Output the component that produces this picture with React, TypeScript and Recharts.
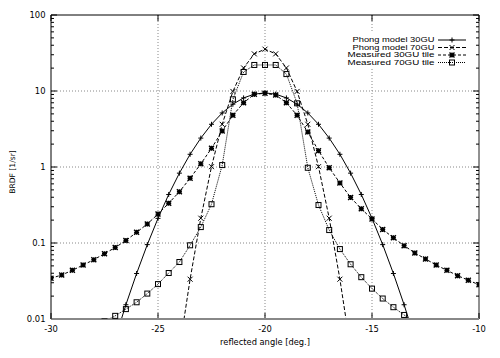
import React from 'react';
import { LineChart, Line, XAxis, YAxis, ReferenceLine, Legend } from 'recharts';

// ---------- data ----------
const xTicks = [-30, -25, -20, -15, -10];
const xGrid = [-25, -20, -15];
const yTicks = [0.01, 0.1, 1, 10, 100];
const yTickLabels = ['0.01', '0.1', '1', '10', '100'];
const yGrid = [0.1, 1, 10];
const yMinorFactors = [2, 3, 4, 5, 6, 7, 8, 9];
const yDecades = [0.01, 0.1, 1, 10];

const seriesNames = ['Phong model 30GU', 'Phong model 70GU', 'Measured 30GU tile', 'Measured 70GU tile'];

const phong30X = [-27, -26.5, -26, -25.5, -25, -24.5, -24, -23.5, -23, -22.5, -22, -21.5, -21, -20.5, -20,
  -19.5, -19, -18.5, -18, -17.5, -17, -16.5, -16, -15.5, -15, -14.5, -14, -13.5, -13];
const phong30Y = [0.0055, 0.0154, 0.0397, 0.0952, 0.211, 0.435, 0.83, 1.47, 2.4, 3.65, 5.14, 6.71, 8.11, 9.09, 9.44,
  9.09, 8.11, 6.71, 5.14, 3.65, 2.4, 1.47, 0.83, 0.435, 0.211, 0.0952, 0.0397, 0.0154, 0.0055];

const phong70X = [-24, -23.5, -23, -22.5, -22, -21.5, -21, -20.5, -20, -19.5, -19, -18.5, -18, -17.5, -17, -16.5, -16];
const phong70Y = [0.004, 0.0334, 0.212, 1.01, 3.65, 9.87, 20.1, 30.8, 35.5, 30.8, 20.1, 9.87, 3.65, 1.01, 0.212, 0.0334, 0.004];

const meas30X = [-30, -29.5, -29, -28.5, -28, -27.5, -27, -26.5, -26, -25.5, -25, -24.5, -24, -23.5, -23, -22.5, -22,
  -21.5, -21, -20.5, -20, -19.5, -19, -18.5, -18, -17.5, -17, -16.5, -16, -15.5, -15, -14.5, -14, -13.5, -13,
  -12.5, -12, -11.5, -11, -10.5, -10];
const meas30Y = [0.0343, 0.038, 0.0437, 0.0513, 0.0603, 0.0724, 0.0871, 0.108, 0.138, 0.178, 0.24, 0.333, 0.473,
  0.71, 1.1, 1.76, 2.98, 4.79, 7.01, 9.06, 9.33, 8.85, 7.01, 4.79, 2.88, 1.64, 0.977, 0.617, 0.398, 0.282, 0.207,
  0.151, 0.117, 0.0923, 0.0741, 0.0617, 0.0513, 0.0437, 0.0372, 0.0324, 0.0282];

const meas70X = [-27.5, -27, -26.5, -26, -25.5, -25, -24.5, -24, -23.5, -23, -22.5, -22, -21.5, -21, -20.5, -20,
  -19.5, -19, -18.5, -18, -17.5, -17, -16.5, -16, -15.5, -15, -14.5, -14, -13.5, -13];
const meas70Y = [0.0093, 0.011, 0.0135, 0.0166, 0.0216, 0.0288, 0.0403, 0.0562, 0.0933, 0.162, 0.324, 1.06, 7.76,
  17.8, 22.0, 22.0, 22.0, 16.7, 6.89, 0.977, 0.316, 0.148, 0.0832, 0.0525, 0.0355, 0.0251, 0.0186, 0.0143, 0.0113, 0.0089];

const toPoints = (xs: number[], ys: number[]) => xs.map((x, i) => ({ x, y: ys[i] }));

// ---------- styles ----------
const FONT = 'DejaVu Sans';
const series = [
  { name: seriesNames[0], data: toPoints(phong30X, phong30Y), dash: undefined as string | undefined, marker: 'plus', textW: 82 },
  { name: seriesNames[1], data: toPoints(phong70X, phong70Y), dash: '4 2', marker: 'cross', textW: 82 },
  { name: seriesNames[2], data: toPoints(meas30X, meas30Y), dash: '3 2', marker: 'star', textW: 87 },
  { name: seriesNames[3], data: toPoints(meas70X, meas70Y), dash: '1 1', marker: 'square', textW: 87 },
];

function Marker({ kind, cx, cy }: { kind: string; cx?: number; cy?: number }) {
  if (cx == null || cy == null || !isFinite(cx) || !isFinite(cy)) return null;
  const s = 2.5;
  const plus = `M${cx - s},${cy}H${cx + s}M${cx},${cy - s}V${cy + s}`;
  const cross = `M${cx - s},${cy - s}L${cx + s},${cy + s}M${cx - s},${cy + s}L${cx + s},${cy - s}`;
  if (kind === 'plus') return <path d={plus} stroke="#000" strokeWidth={1} fill="none" strokeDasharray="none" />;
  if (kind === 'cross') return <path d={cross} stroke="#000" strokeWidth={1} fill="none" strokeDasharray="none" />;
  if (kind === 'star') return <path d={plus + cross} stroke="#000" strokeWidth={1.4} fill="none" strokeDasharray="none" />;
  return <rect x={cx - 2.5} y={cy - 2.5} width={5} height={5} stroke="#000" strokeWidth={1} fill="none" strokeDasharray="none" />;
}

// legend box at left 340, top 33 (page pixels)
const renderLegend = () => (
  <svg width={136} height={34} style={{ display: 'block', background: '#fff' }}>
    {series.map((s, i) => {
      const y = 7 + i * 7.5;
      return (
        <g key={i}>
          <text x={94.5} y={y} dy="0.36em" textAnchor="end" fontSize={6.7} fontFamily="Liberation Sans"
            textLength={s.textW} lengthAdjust="spacingAndGlyphs" fill="#000">{s.name}</text>
          <line x1={98} x2={126} y1={y} y2={y} stroke="#000" strokeWidth={1} strokeDasharray={s.dash} />
          <Marker kind={s.marker} cx={112} cy={y} />
        </g>
      );
    })}
  </svg>
);

const X0 = -30, X1 = -10, Y0 = 0.01, Y1 = 100;
const majorLenX = 0.28, minorLenX = 0.14; // in degrees (horizontal tick length)
const tickFactorY = 1.2; // vertical tick length on log scale

export default function App() {
  const yMinor: number[] = [];
  yDecades.forEach((d) => yMinorFactors.forEach((f) => yMinor.push(d * f)));

  return (
    <div style={{ position: 'absolute', left: 0, top: 0, width: 500, height: 358, background: '#fff' }}>
      <LineChart width={500} height={358} margin={{ top: 15, right: 21, bottom: 19, left: 0 }}>
        <XAxis
          type="number"
          dataKey="x"
          domain={[X0, X1]}
          ticks={xTicks}
          allowDataOverflow
          height={20}
          tickSize={0}
          tickMargin={7}
          tickLine={false}
          axisLine={{ stroke: '#888', strokeWidth: 2 }}
          tick={{ fontSize: 8.4, fontFamily: FONT, fill: '#000' }}
          label={{ value: 'reflected angle [deg.]', position: 'bottom', offset: 0, style: { fontSize: 8.3, fontFamily: FONT, fill: '#000' } }}
        />
        <YAxis
          type="number"
          scale="log"
          domain={[Y0, Y1]}
          ticks={yTicks}
          allowDataOverflow
          width={51}
          tickSize={0}
          tickMargin={5.5}
          tickLine={false}
          axisLine={{ stroke: '#000' }}
          tick={{ fontSize: 8.4, fontFamily: FONT, fill: '#000' }}
          tickFormatter={(v: number) => {
            const i = yTicks.indexOf(v);
            return i >= 0 ? yTickLabels[i] : String(v);
          }}
          label={{
            content: (props: any) => {
              const vb = props.viewBox || { x: 0, y: 15, width: 51, height: 304 };
              const cx = vb.x + 12.7;
              const cy = vb.y + vb.height / 2 + 5;
              return (
                <text x={cx} y={cy} dy="0.35em" transform={`rotate(-90 ${cx} ${cy})`} textAnchor="middle"
                  fontSize={7.6} fontFamily={FONT} fill="#000">BRDF [1/sr]</text>
              );
            },
          }}
        />
        {xGrid.map((v) => (
          <ReferenceLine key={`gx${v}`} x={v} stroke="#888" strokeDasharray="1 2" ifOverflow="visible" />
        ))}
        {yGrid.map((v) => (
          <ReferenceLine key={`gy${v}`} y={v} stroke="#888" strokeDasharray="1 2" ifOverflow="visible" />
        ))}
        <ReferenceLine y={Y1} stroke="#000" ifOverflow="visible" />
        <ReferenceLine x={X1} stroke="#222" ifOverflow="visible" />
        {yTicks.map((v) => (
          <ReferenceLine key={`yl${v}`} segment={[{ x: X0, y: v }, { x: X0 + majorLenX, y: v }]} stroke="#000" ifOverflow="visible" />
        ))}
        {yTicks.map((v) => (
          <ReferenceLine key={`yr${v}`} segment={[{ x: X1, y: v }, { x: X1 - majorLenX, y: v }]} stroke="#000" ifOverflow="visible" />
        ))}
        {yMinor.map((v) => (
          <ReferenceLine key={`yml${v}`} segment={[{ x: X0, y: v }, { x: X0 + minorLenX, y: v }]} stroke="#000" ifOverflow="visible" />
        ))}
        {yMinor.map((v) => (
          <ReferenceLine key={`ymr${v}`} segment={[{ x: X1, y: v }, { x: X1 - minorLenX, y: v }]} stroke="#000" ifOverflow="visible" />
        ))}
        {xTicks.map((v) => (
          <ReferenceLine key={`xb${v}`} segment={[{ x: v, y: Y0 }, { x: v, y: Y0 * tickFactorY }]} stroke="#000" ifOverflow="visible" />
        ))}
        {xTicks.map((v) => (
          <ReferenceLine key={`xt${v}`} segment={[{ x: v, y: Y1 }, { x: v, y: Y1 / tickFactorY }]} stroke="#000" ifOverflow="visible" />
        ))}
        {series.map((s) => (
          <Line
            key={s.name}
            name={s.name}
            data={s.data}
            dataKey="y"
            type="linear"
            stroke="#000"
            strokeWidth={1}
            strokeDasharray={s.dash}
            isAnimationActive={false}
            activeDot={false}
            dot={(p: any) => <Marker key={`${s.name}-${p.index}`} kind={s.marker} cx={p.cx} cy={p.cy} />}
          />
        ))}
        <Legend
          content={renderLegend}
          layout="vertical"
          align="center"
          verticalAlign="middle"
          wrapperStyle={{ left: 340, top: 33, width: 136, height: 34, background: '#fff' }}
        />
      </LineChart>
    </div>
  );
}
